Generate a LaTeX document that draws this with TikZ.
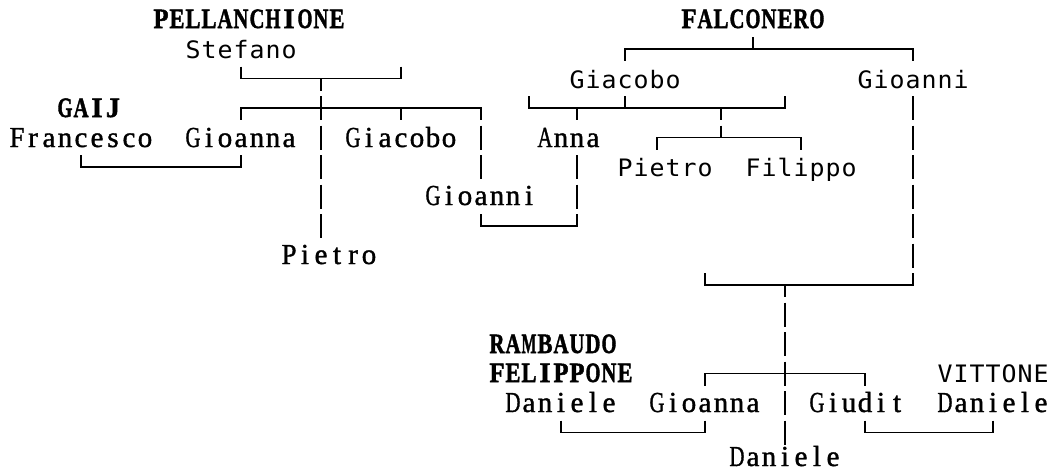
\documentclass[tikz,border=0pt]{standalone}
\usepackage{fontspec}
\usepackage{graphicx}
\newfontfamily\serfont[FakeBold=1.3]{Liberation Serif}
\newfontfamily\serbfont[FakeBold=1.8]{Liberation Serif Bold}
\newfontfamily\sansmono[FakeStretch=1.13]{DejaVu Sans Mono}
\newsavebox\cellbox
\newcommand\mcell[1]{\sbox\cellbox{#1}\makebox[16pt][c]{\ifdim\wd\cellbox>15pt\relax\resizebox{15pt}{\height}{\usebox\cellbox}\else\usebox\cellbox\fi}}
\def\cells#1{\cellsloop#1\relax}
\def\cellsloop#1{\ifx\relax#1\else\mcell{#1}\expandafter\cellsloop\fi}
\tikzset{
  txt/.style={anchor=base west, inner sep=0pt, outer sep=0pt},
  ser/.style={txt, font=\serfont\fontsize{29}{30}\selectfont},
  serb/.style={txt, font=\serbfont\fontsize{28}{30}\selectfont},
  sanst/.style={txt, font=\sansmono\fontsize{24}{28}\selectfont},
  hbar/.style={line width=1.8pt, line cap=rect},
  vbar/.style={line width=1.8pt, dash pattern=on 24pt off 5.5pt},
  vmid/.style={vbar, dash phase=12pt},
}
\begin{document}
\begin{tikzpicture}[x=1pt,y=-1pt]
\useasboundingbox (0,0) rectangle (1050,471);
% ---- names ----
\node[serb] (pell) at (153,28) {\cells{PELLANCHIONE}};
\node[serb] (fal) at (681,28) {\cells{FALCONERO}};
\node[sanst] (stef) at (185,58) {\cells{Stefano}};
\node[sanst] (giacR) at (569,88) {\cells{Giacobo}};
\node[sanst] (gioanniR) at (857,88) {\cells{Gioanni}};
\node[serb] (gaij) at (57,117) {\cells{GAIJ}};
\node[ser] (franc) at (9,147) {\cells{Francesco}};
\node[ser] (gioannaL) at (185,147) {\cells{Gioanna}};
\node[ser] (giacL) at (345,147) {\cells{Giacobo}};
\node[ser] (anna) at (537,147) {\cells{Anna}};
\node[sanst] (pietroR) at (617,176) {\cells{Pietro}};
\node[sanst] (filippo) at (745,176) {\cells{Filippo}};
\node[ser] (gioanniM) at (425,205) {\cells{Gioanni}};
\node[ser] (pietroL) at (281,264) {\cells{Pietro}};
\node[serb] (ramb) at (489,353) {\cells{RAMBAUDO}};
\node[serb] (felip) at (489,382) {\cells{FELIPPONE}};
\node[sanst] (vitt) at (937,382) {\cells{VITTONE}};
\node[ser] (danL) at (505,412) {\cells{Daniele}};
\node[ser] (gioannaB) at (649,412) {\cells{Gioanna}};
\node[ser] (giudit) at (809,412) {\cells{Giudit}};
\node[ser] (danR) at (937,412) {\cells{Daniele}};
\node[ser] (danB) at (729,466) {\cells{Daniele}};
% ---- junction coordinates ----
\coordinate (sw) at (401,66.5);
\coordinate (sj) at (321,78.5);
\coordinate (ax) at (577,155);
\coordinate (gl) at (529,96);
\coordinate (gr) at (785,96);
\coordinate (gj) at (721,108);
\coordinate (pr) at (657,137.5);
\coordinate (ml) at (705,273);
\coordinate (mj) at (785,285);
\coordinate (cr) at (865,373.5);
% ---- Pellanchione family ----
\draw[vbar] (stef.south |- 0,66.5) -- (stef.south |- 0,78.5);
\draw[vbar] (sw) -- (sw |- 0,78.5);
\draw[hbar] (stef.south |- 0,78.5) -- (sw |- 0,78.5);
\draw[vmid] (sj) -- (sj |- 0,238);
\draw[hbar] (gioannaL.south |- 0,108) -- (gioanniM.south |- 0,108);
\draw[vmid] (gioannaL.south |- 0,108) -- (gioannaL.south |- 0,120);
\draw[vmid] (giacL.south |- 0,108) -- (giacL.south |- 0,120);
\draw[vmid] (gioanniM.north |- 0,108) -- (gioanniM.north |- 0,179);
% Francesco -- Gioanna
\draw[vbar] (franc.south |- 0,155) -- (franc.south |- 0,167);
\draw[vbar] (gioannaL.south |- 0,155) -- (gioannaL.south |- 0,167);
\draw[hbar] (franc.south |- 0,167) -- (gioannaL.south |- 0,167);
% Gioanni -- Anna
\draw[vbar] (gioanniM.south |- 0,214) -- (gioanniM.south |- 0,226);
\draw[vbar] (ax) -- (ax |- 0,226);
\draw[hbar] (gioanniM.south |- 0,226) -- (ax |- 0,226);
% ---- Falconero family ----
\draw[vbar] (fal.south |- 0,37) -- (fal.south |- 0,49);
\draw[hbar] (giacR.north |- 0,49) -- (gioanniR.north |- 0,49);
\draw[vmid] (giacR.north |- 0,49) -- (giacR.north |- 0,61);
\draw[vmid] (gioanniR.north |- 0,49) -- (gioanniR.north |- 0,61);
% Giacobo bar
\draw[vbar] (gl) -- (gl |- 0,108);
\draw[vbar] (giacR.south |- 0,96) -- (giacR.south |- 0,108);
\draw[vbar] (gr) -- (gr |- 0,108);
\draw[hbar] (gl |- 0,108) -- (gr |- 0,108);
\draw[vmid] (ax |- 0,108) -- (ax |- 0,120);
\draw[vmid] (gj) -- (gj |- 0,137.5);
% Pietro / Filippo
\draw[hbar] (pr) -- (filippo.north |- 0,137.5);
\draw[vmid] (pr) -- (pr |- 0,149.5);
\draw[vmid] (filippo.north |- 0,137.5) -- (filippo.north |- 0,149.5);
% Gioanni (Falconero) down to marriage
\draw[vbar] (gioanniR.south |- 0,96) -- (gioanniR.south |- 0,285);
\draw[hbar] (ml |- 0,285) -- (gioanniR.south |- 0,285);
\draw[vbar] (ml) -- (ml |- 0,285);
\draw[vmid] (mj) -- (danB.north |- 0,444.5);
% children bar
\draw[hbar] (gioannaB.north |- 0,373.5) -- (cr);
\draw[vmid] (gioannaB.north |- 0,373.5) -- (gioannaB.north |- 0,385.5);
\draw[vmid] (cr) -- (cr |- 0,385.5);
% Daniele -- Gioanna
\draw[vbar] (danL.south |- 0,420.5) -- (danL.south |- 0,432.5);
\draw[vbar] (gioannaB.south |- 0,420.5) -- (gioannaB.south |- 0,432.5);
\draw[hbar] (danL.south |- 0,432.5) -- (gioannaB.south |- 0,432.5);
% Giudit -- Daniele
\draw[vbar] (cr |- 0,420.5) -- (cr |- 0,432.5);
\draw[vbar] (danR.south |- 0,420.5) -- (danR.south |- 0,432.5);
\draw[hbar] (cr |- 0,432.5) -- (danR.south |- 0,432.5);
\end{tikzpicture}
\end{document}
